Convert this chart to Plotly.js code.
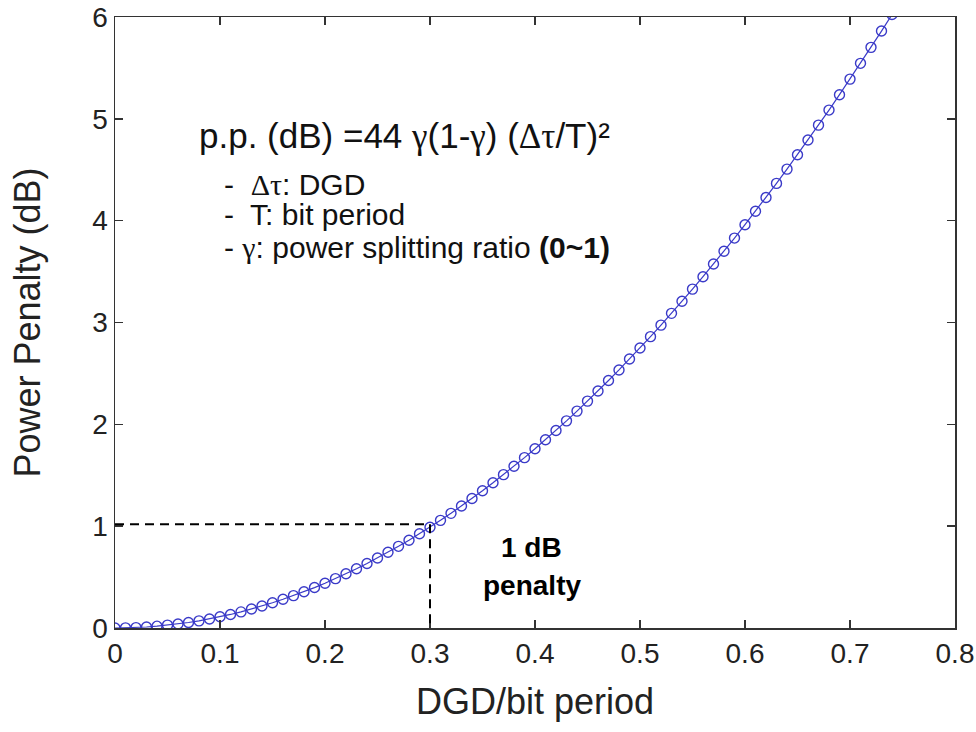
<!DOCTYPE html>
<html>
<head>
<meta charset="utf-8">
<script src="https://cdn.plot.ly/plotly-3.0.1.min.js"></script>
<style>html,body{margin:0;padding:0;background:#fff;}#chart{width:976px;height:732px;}</style>
</head>
<body>
<div id="chart"></div>
<script>
// DGD / bit period (x) and power penalty in dB (y)
const dgd = [0.00,0.01,0.02,0.03,0.04,0.05,0.06,0.07,0.08,0.09,
             0.10,0.11,0.12,0.13,0.14,0.15,0.16,0.17,0.18,0.19,
             0.20,0.21,0.22,0.23,0.24,0.25,0.26,0.27,0.28,0.29,
             0.30,0.31,0.32,0.33,0.34,0.35,0.36,0.37,0.38,0.39,
             0.40,0.41,0.42,0.43,0.44,0.45,0.46,0.47,0.48,0.49,
             0.50,0.51,0.52,0.53,0.54,0.55,0.56,0.57,0.58,0.59,
             0.60,0.61,0.62,0.63,0.64,0.65,0.66,0.67,0.68,0.69,
             0.70,0.71,0.72,0.73,0.74];
const penalty = [0.000,0.001,0.004,0.010,0.018,0.028,0.040,0.054,0.070,0.089,
                 0.110,0.133,0.158,0.186,0.216,0.248,0.282,0.318,0.356,0.397,
                 0.440,0.485,0.532,0.582,0.634,0.688,0.744,0.802,0.862,0.925,
                 0.990,1.057,1.126,1.198,1.272,1.348,1.426,1.506,1.588,1.673,
                 1.760,1.849,1.940,2.034,2.130,2.228,2.328,2.430,2.534,2.641,
                 2.750,2.861,2.974,3.090,3.208,3.328,3.450,3.574,3.700,3.829,
                 3.960,4.093,4.228,4.366,4.506,4.648,4.792,4.938,5.086,5.237,
                 5.390,5.545,5.702,5.862,6.024];
// 1 dB penalty marker point
const refX = [0.30];
const refY = [1.02];
const xTicks = [0,0.1,0.2,0.3,0.4,0.5,0.6,0.7,0.8];
const yTicks = [0,1,2,3,4,5,6];

const SANS = 'Liberation Sans, Arial, sans-serif';
const SERIF = 'Liberation Serif, Times New Roman, serif';
const g = '<span style="font-family:' + SERIF + '">γ</span>';
const dt = '<span style="font-family:' + SERIF + '">Δτ</span>';

const trace = {
  x: dgd, y: penalty, type: 'scatter', mode: 'lines+markers',
  line: {color: '#3a3ac8', width: 1.2},
  marker: {symbol: 'circle-open', size: 10, color: '#3a3ac8', line: {width: 1.4, color: '#3a3ac8'}},
  hoverinfo: 'x+y', showlegend: false
};

const layout = {
  width: 976, height: 732,
  margin: {l: 115, r: 21, t: 17, b: 104},
  paper_bgcolor: '#fff', plot_bgcolor: '#fff',
  font: {family: SANS, color: '#111'},
  xaxis: {
    range: [0, 0.8], tickvals: xTicks, ticktext: xTicks.map(String),
    showgrid: false, zeroline: false, showline: true, mirror: 'ticks',
    linecolor: '#333', linewidth: 1.5, ticks: 'inside', ticklen: 8, tickwidth: 1.5, tickcolor: '#333',
    tickfont: {size: 28, family: SANS, color: '#222'},
    title: {text: 'DGD/bit period', font: {size: 36, family: SANS, color: '#222'}, standoff: 20},
    automargin: false
  },
  yaxis: {
    range: [0, 6], tickvals: yTicks, ticktext: yTicks.map(String),
    showgrid: false, zeroline: false, showline: true, mirror: 'ticks',
    linecolor: '#333', linewidth: 1.5, ticks: 'inside', ticklen: 8, tickwidth: 1.5, tickcolor: '#333',
    tickfont: {size: 28, family: SANS, color: '#222'},
    title: {text: 'Power Penalty (dB)', font: {size: 36, family: SANS, color: '#222'}, standoff: 40},
    automargin: false
  },
  shapes: [
    {type: 'line', xref: 'x', yref: 'y', x0: 0, x1: refX[0], y0: refY[0], y1: refY[0],
     line: {color: '#000', width: 2, dash: '9px,6px'}},
    {type: 'line', xref: 'x', yref: 'y', x0: refX[0], x1: refX[0], y0: refY[0], y1: 0,
     line: {color: '#000', width: 2, dash: '9px,6px'}}
  ],
  annotations: [
    {xref: 'x', yref: 'y', x: 0.078, y: 4.83, xanchor: 'left', yanchor: 'middle', showarrow: false,
     text: 'p.p. (dB) =44 ' + g + '(1-' + g + ') (' + dt + '/T)²', font: {size: 35, family: SANS, color: '#111'}},
    {xref: 'x', yref: 'y', x: 0.102, y: 4.36, xanchor: 'left', yanchor: 'middle', showarrow: false,
     text: '-  ' + dt + ': DGD', font: {size: 30, family: SANS, color: '#111'}},
    {xref: 'x', yref: 'y', x: 0.102, y: 4.06, xanchor: 'left', yanchor: 'middle', showarrow: false,
     text: '-  T: bit period', font: {size: 30, family: SANS, color: '#111'}},
    {xref: 'x', yref: 'y', x: 0.102, y: 3.74, xanchor: 'left', yanchor: 'middle', showarrow: false,
     text: '- ' + g + ': power splitting ratio <b>(0~1)</b>', font: {size: 30, family: SANS, color: '#111'}},
    {xref: 'x', yref: 'y', x: 0.397, y: 0.79, xanchor: 'center', yanchor: 'middle', showarrow: false,
     text: '<b>1 dB</b>', font: {size: 28, family: SANS, color: '#000'}},
    {xref: 'x', yref: 'y', x: 0.397, y: 0.42, xanchor: 'center', yanchor: 'middle', showarrow: false,
     text: '<b>penalty</b>', font: {size: 28, family: SANS, color: '#000'}}
  ]
};

Plotly.newPlot('chart', [trace], layout, {displayModeBar: false, staticPlot: true});
</script>
</body>
</html>
